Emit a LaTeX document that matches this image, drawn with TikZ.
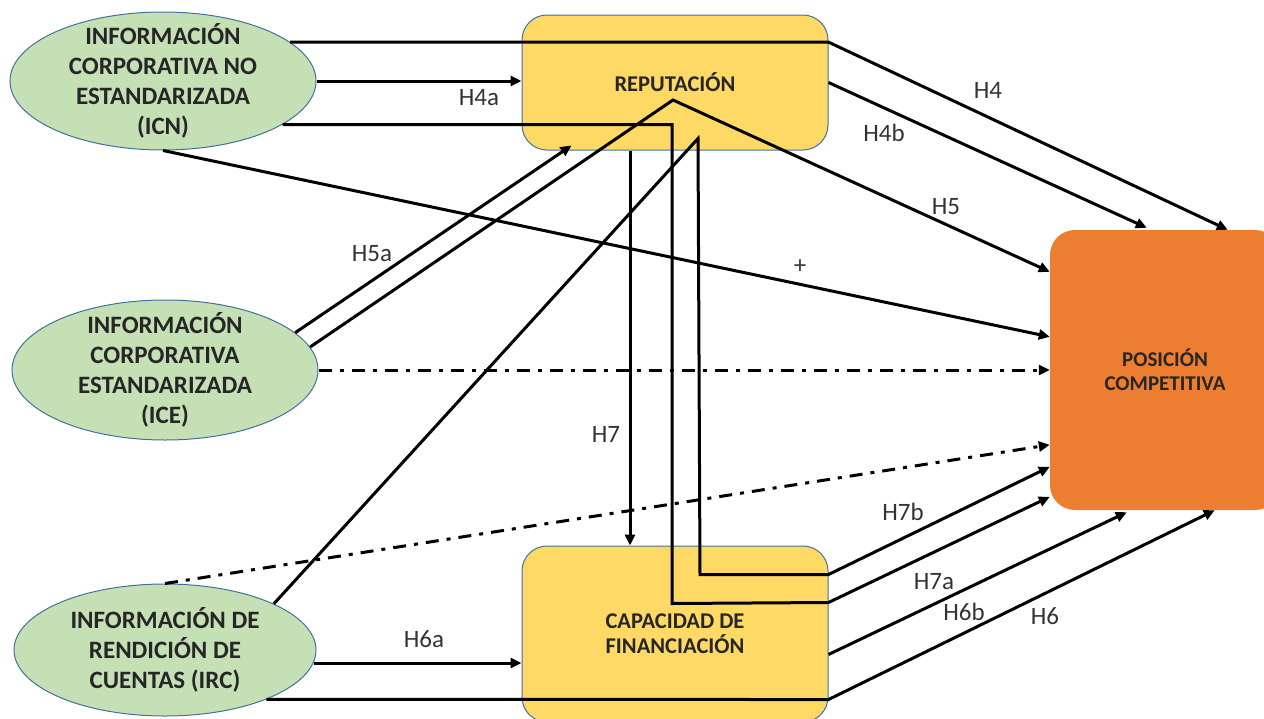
\documentclass[tikz,border=0pt]{standalone}
\usepackage{fontspec}
\setmainfont{Carlito}
\usetikzlibrary{arrows.meta,shapes.geometric}
\definecolor{greenfill}{HTML}{C5E0B4}
\definecolor{blueline}{HTML}{41719C}
\definecolor{yellowfill}{HTML}{FFD966}
\definecolor{orangefill}{HTML}{ED7D31}
\definecolor{textgray}{HTML}{262626}
\definecolor{labelgray}{HTML}{333333}

\begin{document}
\begin{tikzpicture}[x=1pt,y=-1pt,
  construct/.style={ellipse, draw=blueline, line width=1pt, fill=greenfill,
    inner xsep=0pt, inner ysep=-12pt, align=center, text=textgray,
    font=\bfseries\fontsize{25}{30}\selectfont},
  mediator/.style={rectangle, rounded corners=25pt, draw=blueline, line width=1pt,
    fill=yellowfill, inner sep=0pt, align=center, text=textgray,
    font=\bfseries\fontsize{22.5}{25}\selectfont},
  outcome/.style={rectangle, rounded corners=25pt, fill=orangefill, inner sep=0pt,
    align=center, text=textgray, font=\bfseries\fontsize{21}{24}\selectfont},
  link/.style={line width=3pt, -{Triangle[length=11pt,width=10pt]}},
  dashdotlink/.style={line width=3pt, dash pattern=on 13pt off 8pt on 4pt off 8pt,
    -{Triangle[length=11pt,width=10pt]}},
  hlabel/.style={inner sep=0pt, text=labelgray, font=\fontsize{25}{28}\selectfont},
]
\useasboundingbox (0,0) rectangle (1264,718);

% constructs (ellipses)
\node[construct, minimum width=306pt, minimum height=138pt] (icn) at (163,81)
  {INFORMACIÓN\\CORPORATIVA NO\\ESTANDARIZADA\\(ICN)};
\node[construct, minimum width=306pt, minimum height=140pt] (ice) at (165,370)
  {INFORMACIÓN\\CORPORATIVA\\ESTANDARIZADA\\(ICE)};
\node[construct, minimum width=302pt, minimum height=132pt] (irc) at (165,650)
  {INFORMACIÓN DE\\RENDICIÓN DE\\CUENTAS (IRC)};

% mediators and outcome
\node[mediator, minimum width=306pt, minimum height=135pt] (rep) at (675,82.5)
  {REPUTACIÓN};
\node[mediator, minimum width=306pt, minimum height=176pt] (cap) at (675,634)
  {CAPACIDAD DE\\FINANCIACIÓN};
\node[outcome, minimum width=230pt, minimum height=280pt] (pos) at (1165,370)
  {POSICIÓN\\COMPETITIVA};

% ICN paths
\draw[link] (icn.17) -- (icn.17 -| rep.east) -- ([xshift=178pt]pos.north west);
\draw[link] (icn.east) -- (icn.east -| rep.west);
\draw[link] (icn.-20) -- ([xshift=-3pt,yshift=26pt]rep.south)
  -- ([xshift=-3pt,yshift=-58pt]cap.north) -- ([yshift=-57pt]cap.north east)
  -- ([yshift=-267pt]pos.north west);
\draw[link] (icn.south) -- ([yshift=-107pt]pos.north west);

% ICE paths
\draw[link] (ice.16) -- ([xshift=50pt,yshift=5pt]rep.south west);
\draw[link] (ice.9) -- ([xshift=-2pt,yshift=-17.5pt]rep.center)
  -- ([yshift=-42pt]pos.north west);
\draw[dashdotlink] (ice.east) -- (ice.east -| pos.west);

% IRC paths
\draw[link] (irc.23) -- ([xshift=23pt,yshift=12pt]rep.south)
  -- ([xshift=25pt,yshift=-29pt]cap.north) -- ([yshift=-29pt]cap.north east)
  -- ([yshift=-237pt]pos.north west);
\draw[dashdotlink] (irc.north) -- ([yshift=-215pt]pos.north west);
\draw[link] (irc.-5) -- (irc.-5 -| cap.west);
\draw[link] (irc.-26) -- ([yshift=-154pt]cap.north east)
  -- ([xshift=165pt]pos.south west);

% REPUTACIÓN paths
\draw[link] (rep.east) -- ([xshift=97pt,yshift=2pt]pos.north west);
\draw[link] ([xshift=-45pt]rep.south) -- ([xshift=-45pt]cap.north);

% CAPACIDAD paths
\draw[link] ([yshift=-109pt]cap.north east) -- ([xshift=77pt,yshift=-2pt]pos.south west);

% hypothesis labels
\node[hlabel] (lH4)  at (988,90)  {H4};
\node[hlabel] (lH4a) at (479,98)  {H4a};
\node[hlabel] (lH4b) at (884,133) {H4b};
\node[hlabel] (lH5)  at (946,207) {H5};
\node[hlabel] (lH5a) at (372,254) {H5a};
\node[hlabel] (lplus) at (800,267) {+};
\node[hlabel] (lH7)  at (606,434) {H7};
\node[hlabel] (lH7b) at (903,512) {H7b};
\node[hlabel] (lH7a) at (934,582) {H7a};
\node[hlabel] (lH6b) at (964,612) {H6b};
\node[hlabel] (lH6)  at (1045,616) {H6};
\node[hlabel] (lH6a) at (424,639) {H6a};
\end{tikzpicture}
\end{document}
